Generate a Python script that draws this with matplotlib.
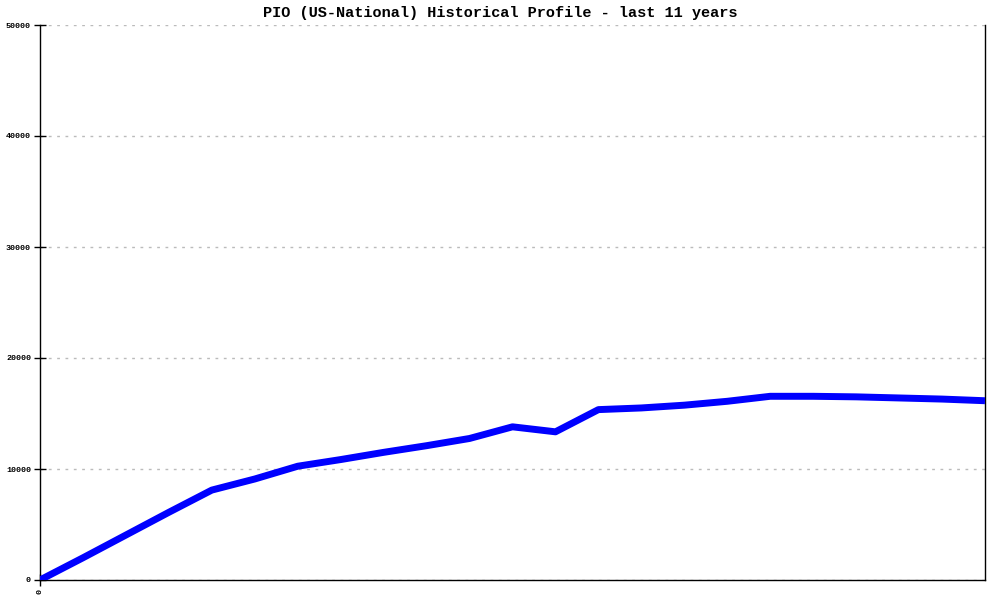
import matplotlib
matplotlib.use("Agg")
import matplotlib.pyplot as plt

title = "PIO (US-National) Historical Profile - last 11 years"
y_ticks = [0, 10000, 20000, 30000, 40000, 50000]
x_tick_labels = ["0"]
values = [0, 2000, 4050, 6100, 8100, 9100, 10250, 10850, 11500, 12100, 12750,
          13800, 13350, 15350, 15500, 15750, 16100, 16550, 16550, 16500, 16400,
          16300, 16150]

fig = plt.figure(figsize=(10, 6), dpi=100)
ax = fig.add_axes([0.04, 1 - 580 / 600, 0.945, 555 / 600])
x = list(range(len(values)))
ax.plot(x, values, color="#0000FF", linewidth=5, solid_joinstyle="round",
        solid_capstyle="butt", zorder=3)
ax.set_xlim(0, len(values) - 1)
ax.set_ylim(0, 50000)
ax.set_yticks(y_ticks)
ax.set_yticklabels([str(v) for v in y_ticks], fontsize=6, family="Liberation Mono",
                   fontweight="bold")
ax.set_xticks([0])
ax.set_xticklabels(x_tick_labels, rotation=90, fontsize=6, family="Liberation Mono",
                   fontweight="bold")
ax.tick_params(axis="both", direction="inout", length=9, width=1, pad=2)
ax.yaxis.grid(True, linestyle=(0, (2, 4)), color="#bbbbbb", linewidth=1)
ax.set_axisbelow(True)
ax.spines["top"].set_visible(False)
for s in ["left", "bottom", "right"]:
    ax.spines[s].set_linewidth(1)
    ax.spines[s].set_color("black")
fig.text(0.5, 1 - 13 / 600, title, ha="center", va="center", fontsize=11,
         family="Liberation Mono", fontweight="bold")
fig.savefig("out.png", dpi=100)
